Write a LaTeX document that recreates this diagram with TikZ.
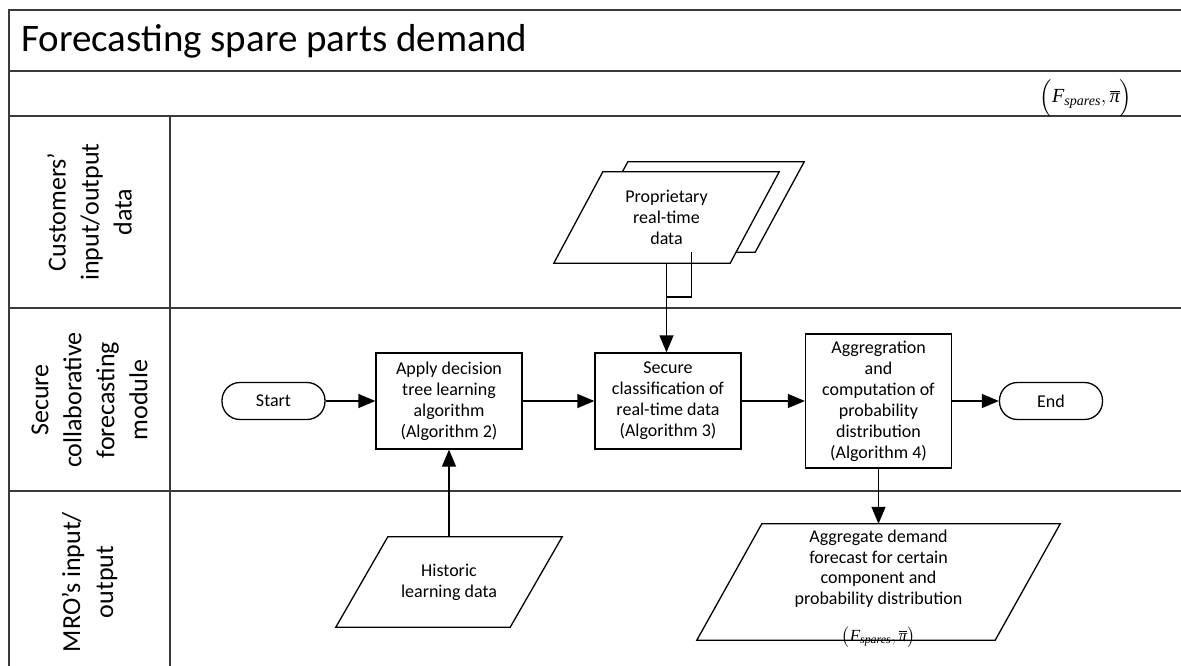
\RequirePackage{fix-cm}
\documentclass[tikz,border=0pt]{standalone}
\usepackage{amsmath}
\usepackage{fontspec}
\setmainfont{Carlito}
\newfontfamily\formfont{Liberation Serif}
\usetikzlibrary{arrows.meta,calc}

\definecolor{frame}{HTML}{3A3A3A}
\newcommand\titlefont{\fontsize{39}{46}\selectfont}
\newcommand\boxfont{\fontsize{18}{21}\selectfont}
\newcommand\lanefont{\fontsize{26}{33}\selectfont}
% (F_spares, pi-bar) with delimiters of a chosen size
\newcommand\fpair[2]{\ensuremath{#1(\text{\formfont\itshape F}_{\text{\formfont\itshape spares}},\overline{\text{\formfont\itshape π}}#2)}}

\pgfdeclarelayer{bg}
\pgfsetlayers{bg,main}

\tikzset{
  poolline/.style={draw=frame, line width=1.6pt},
  proc/.style={draw, line width=1.3pt, minimum width=146pt, align=center,
    font=\boxfont, inner sep=2pt},
  term/.style={draw, line width=1.3pt, rounded corners=18pt, minimum width=103pt,
    minimum height=37pt, font=\boxfont},
  databox/.style={inner sep=0pt, align=center, font=\boxfont},
  para/.style={draw, line width=1.3pt, fill=white},
  flow/.style={line width=1.3pt, -{Triangle[length=17pt,width=14pt]}},
  link/.style={line width=1.3pt},
  lanelabel/.style={rotate=90, align=center, font=\lanefont},
}

% slanted data symbol drawn on the bounding box of a node
\newcommand\slanted[2]{%
  \draw[para] (#1.south west) -- ($(#1.north west)+(#2,0)$) -- (#1.north east)
    -- ($(#1.south east)-(#2,0)$) -- cycle;}

\begin{document}
\begin{tikzpicture}[x=1pt,y=-1pt]
\useasboundingbox (0,0) rectangle (1181,666);
\clip (0,0) rectangle (1181,666);

% pool and swimlanes
\draw[poolline] (1200,10) -- (9,10) -- (9,690);
\draw[poolline] (9,71) -- (1200,71);
\draw[poolline] (9,116) -- (1200,116);
\draw[poolline] (9,308) -- (1200,308);
\draw[poolline] (9,491) -- (1200,491);
\draw[poolline] (170,116) -- (170,690);

\node[anchor=west, font=\titlefont, inner sep=0pt] (title) at (21,41) {Forecasting spare parts demand};
\node[font=\fontsize{20}{24}\selectfont, inner sep=0pt] (poolout) at (1086,98) {\fpair{\Bigl}{\Bigr}};

\node[lanelabel] (cust) at (89.5,212) {Customers’\\input/output\\data};
\node[lanelabel] (scfm) at (89.5,400) {Secure\\collaborative\\forecasting\\module};
\node[lanelabel] (mro) at (89.5,582) {MRO’s input/\\output};

% process steps
\node[term] (start) at (273.5,401) {Start};
\node[proc, minimum height=96pt] (alg2) at (449,401) {Apply decision\\tree learning\\algorithm\\(Algorithm 2)};
\node[proc, minimum height=96pt] (alg3) at (668,401) {Secure\\classification of\\real-time data\\(Algorithm 3)};
\node[proc, minimum height=134pt] (alg4) at (878.5,401) {Aggregration\\and\\computation of\\probability\\distribution\\(Algorithm 4)};
\node[term] (finish) at (1051,401) {End};

% data symbols
\node[databox, minimum width=225pt, minimum height=90pt] (pback) at (691.5,207) {};
\node[databox, minimum width=225pt, minimum height=91pt] (pfront) at (666.5,217.5) {Proprietary\\real-time\\data};
\node[databox, minimum width=226pt, minimum height=90pt] (hist) at (449,582) {Historic\\learning data};
\node[databox, minimum width=363pt, minimum height=116pt] (agg) at (878.5,582) {};
\node[databox, anchor=north, font=\fontsize{18}{20.5}\selectfont] (aggtext) at (878.5,530) {Aggregate demand\\forecast for certain\\component and\\probability distribution};
\node[inner sep=0pt, font=\fontsize{17}{20}\selectfont] (aggform) at (878.5,637) {\fpair{\bigl}{\bigr}};

\begin{pgfonlayer}{bg}
  \slanted{pback}{49}
  \slanted{pfront}{49}
  \slanted{hist}{52}
  \slanted{agg}{65}
\end{pgfonlayer}

% connectors
\coordinate (pjoin) at (666.5,297);
\draw[link] (pback.south) |- (pjoin);
\draw[flow] (pfront.south) -- (pfront.south |- alg3.north);
\draw[flow] (start) -- (alg2);
\draw[flow] (alg2) -- (alg3);
\draw[flow] (alg3) -- (alg4);
\draw[flow] (alg4) -- (finish);
\draw[flow] (hist.north) -- (alg2.south);
\draw[flow] (alg4.south) -- (agg.north);
\end{tikzpicture}
\end{document}
